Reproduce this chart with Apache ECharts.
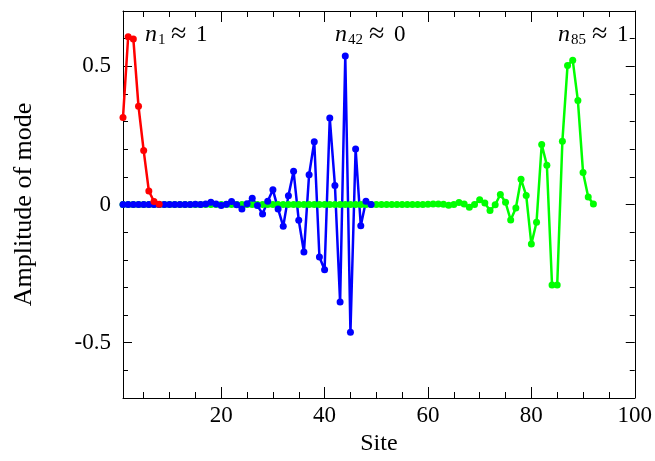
<!DOCTYPE html>
<html><head><meta charset="utf-8">
<script src="https://cdn.jsdelivr.net/npm/echarts@6/dist/echarts.min.js"></script>
<style>html,body{margin:0;padding:0;background:#fff}#c{width:655px;height:461px}</style>
</head><body><div id="c"></div>
<script>
// Mode n1 (red), sites 1..8
const redValues = [0.315, 0.607, 0.599, 0.355, 0.195, 0.049, 0.011, 0.001];
// Mode n42 (blue), sites 1..49
const blueValues = [
  0.000, 0.000, 0.000, 0.000, 0.000, 0.000, 0.000, 0.000, 0.000, 0.000,
  0.000, 0.000, 0.000, 0.000, 0.001, 0.000, 0.002, 0.008, 0.002, -0.004,
  0.001, 0.011, -0.001, -0.016, 0.003, 0.023, -0.004, -0.034, 0.012, 0.053,
  -0.016, -0.079, 0.032, 0.120, -0.057, -0.172, 0.108, 0.227, -0.190, -0.236,
  0.313, 0.069, -0.353, 0.537, -0.462, 0.201, -0.077, 0.012, 0.000
];
// Mode n85 (green), sites 1..92
const greenValues = [
  0, 0, 0, 0, 0, 0, 0, 0, 0, 0,
  0, 0, 0, 0, 0, 0, 0, 0, 0, 0,
  0, 0, 0, 0, 0, 0, 0, 0, 0, 0,
  0, 0, 0, 0, 0, 0, 0, 0, 0, 0,
  0, 0, 0, 0, 0, 0, 0, 0, 0, 0,
  0, 0, 0, 0, 0, 0, 0, 0, 0, 0.001,
  0.002, 0.002, 0.001, -0.003, 0.000, 0.007, 0.002, -0.010, 0.000, 0.017,
  0.005, -0.022, -0.001, 0.036, 0.008, -0.056, -0.013, 0.091, 0.033, -0.143,
  -0.064, 0.217, 0.142, -0.291, -0.291, 0.229, 0.503, 0.522, 0.376, 0.116,
  0.027, 0.002
];
const xLabelTicks = [20, 40, 60, 80, 100];
const xMinorTicks = [5, 10, 15, 25, 30, 35, 45, 50, 55, 65, 70, 75, 85, 90, 95];
const yLabelTicks = [-0.5, 0, 0.5];
const yMinorTicks = [-0.6, -0.4, -0.3, -0.2, -0.1, 0.1, 0.2, 0.3, 0.4, 0.6];

const FONT = 'Liberation Serif';
const toPairs = vals => vals.map((v, i) => [i + 1, v]);

const chart = echarts.init(document.getElementById('c'), null, {renderer: 'canvas'});

function xAx(pos, ticks, len, labels, line) {
  return {
    type: 'value', position: pos, min: 1, max: 100,
    splitLine: {show: false},
    axisLine: {show: line, onZero: false, lineStyle: {color: '#000', width: 1}},
    axisTick: {show: true, inside: true, length: len, customValues: ticks, lineStyle: {color: '#000', width: 1}},
    axisLabel: labels ? {show: true, customValues: ticks, margin: 6, color: '#000', fontFamily: FONT, fontSize: 23} : {show: false},
    name: labels ? 'Site' : '', nameLocation: 'middle', nameGap: 31,
    nameTextStyle: {color: '#000', fontFamily: FONT, fontSize: 24}
  };
}
function yAx(pos, ticks, len, labels, line) {
  return {
    type: 'value', position: pos, min: -0.7, max: 0.7,
    splitLine: {show: false},
    axisLine: {show: line, onZero: false, lineStyle: {color: '#000', width: 1}},
    axisTick: {show: true, inside: true, length: len, customValues: ticks, lineStyle: {color: '#000', width: 1}},
    axisLabel: labels ? {show: true, customValues: ticks, margin: 12, color: '#000', fontFamily: FONT, fontSize: 23,
      formatter: v => (Math.abs(v) < 1e-9 ? '0' : String(v))} : {show: false},
    name: labels ? 'Amplitude of mode' : '', nameLocation: 'middle', nameGap: 86,
    nameTextStyle: {color: '#000', fontFamily: FONT, fontSize: 26}
  };
}

function lineSeries(name, vals, color) {
  return {
    name, type: 'line', data: toPairs(vals), xAxisIndex: 0, yAxisIndex: 0,
    symbol: 'circle', symbolSize: 7, showSymbol: true,
    lineStyle: {color, width: 2.5}, itemStyle: {color},
    animation: false, silent: true
  };
}

function txt(x, y, s, size, italic) {
  return {type: 'text', x, y, silent: true,
    style: {text: s, fontFamily: FONT, fontSize: size, fontStyle: italic ? 'italic' : 'normal',
      fill: '#000', align: 'left', verticalAlign: 'middle'}};
}
function annot(x, sub, val) {
  const subW = sub.length > 1 ? 14 : 6;
  return [
    txt(x, 35, 'n', 24, true),
    txt(x + 13, 40, sub, 15, false),
    txt(x + 13 + subW + 7, 35, '\u2248', 28, false),
    txt(x + 13 + subW + 32, 35, val, 23, false)
  ];
}

chart.setOption({
  backgroundColor: '#fff',
  animation: false,
  grid: {left: 123, right: 18, top: 11, bottom: 63, containLabel: false},
  xAxis: [
    xAx('bottom', xLabelTicks, 11, true, true),
    xAx('bottom', xMinorTicks, 6, false, false),
    xAx('top', xLabelTicks, 11, false, true),
    xAx('top', xMinorTicks, 6, false, false)
  ],
  yAxis: [
    yAx('left', yLabelTicks, 9, true, true),
    yAx('left', yMinorTicks, 5, false, false),
    yAx('right', yLabelTicks, 9, false, true),
    yAx('right', yMinorTicks, 5, false, false)
  ],
  series: [
    lineSeries('n85', greenValues, '#00ff00'),
    lineSeries('n42', blueValues, '#0000ff'),
    lineSeries('n1', redValues, '#ff0000')
  ],
  graphic: [].concat(annot(145, '1', '1'), annot(335, '42', '0'), annot(558, '85', '1'))
});
</script></body></html>
